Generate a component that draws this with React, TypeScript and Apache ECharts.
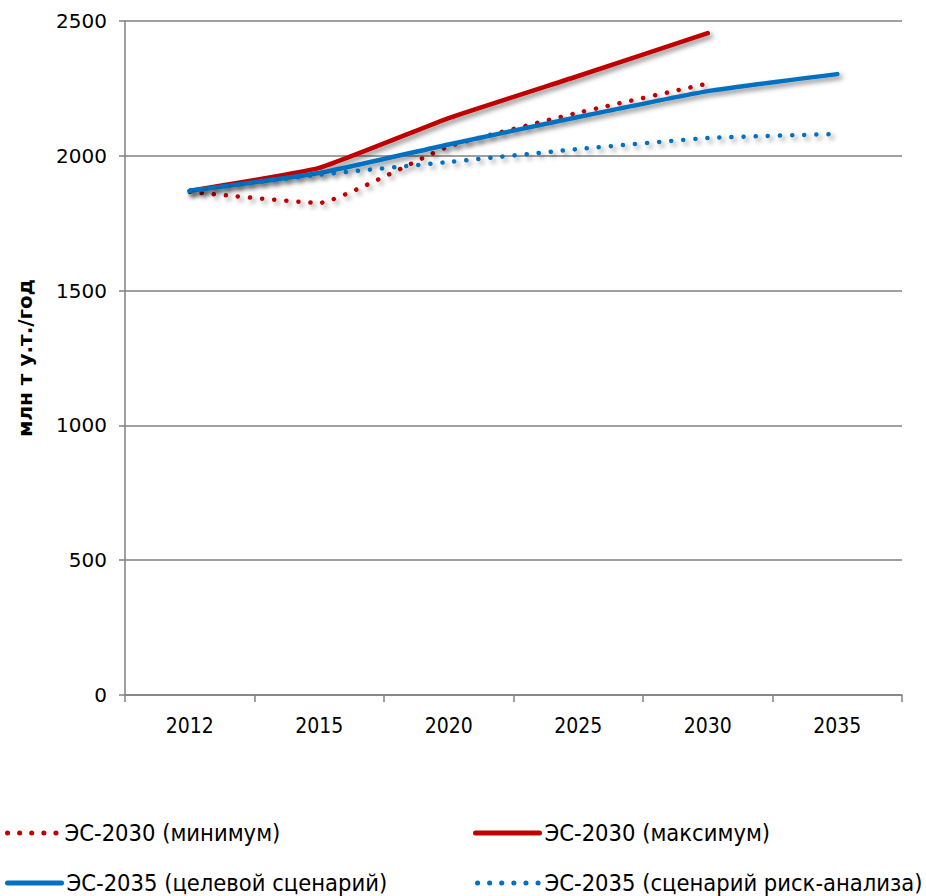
import React, { useEffect, useRef } from "react";
import * as echarts from "echarts";

const years = ["2012", "2015", "2020", "2025", "2030", "2035"];
const es2030Min = [1866, 1825, 2035, 2160, 2268, null];
const es2030Max = [1870, 1955, 2140, 2296, 2455, null];
const es2035Target = [1870, 1936, 2042, 2144, 2240, 2303];
const es2035Risk = [1870, 1930, 1977, 2025, 2066, 2081];
const seriesNames = [
  "ЭС-2030 (минимум)",
  "ЭС-2030 (максимум)",
  "ЭС-2035 (целевой сценарий)",
  "ЭС-2035 (сценарий риск-анализа)",
];
const yTitle = "млн т у.т./год";

const RED = "#C00000";
const BLUE = "#0070C0";
const NARROW = "'Liberation Sans Narrow', 'DejaVu Sans Condensed', 'Noto Sans', sans-serif";
const GOTHIC = "'DejaVu Sans', 'Noto Sans', sans-serif";

export default function App() {
  const ref = useRef<HTMLDivElement>(null);
  useEffect(() => {
    if (!ref.current) return;
    const chart = echarts.init(ref.current, undefined, { renderer: "svg" });
    const shadow = {
      shadowColor: "rgba(0,0,0,0.45)",
      shadowBlur: 5,
      shadowOffsetX: 3,
      shadowOffsetY: 3,
    };
    const mk = (name: string, data: any[], color: string, dotted: boolean) => ({
      name,
      type: "line",
      data,
      smooth: 0.12,
      symbol: "none",
      connectNulls: false,
      color,
      lineStyle: {
        color,
        width: 4.5,
        type: dotted ? [0.1, 12] : "solid",
        cap: "round",
        join: "round",
        ...shadow,
      },
      itemStyle: { color },
    });
    const legendBase = {
      itemWidth: 52,
      itemHeight: 14,
      itemStyle: { opacity: 0, borderWidth: 0 },
      lineStyle: { width: 5, cap: "round", shadowBlur: 0, shadowOffsetX: 0, shadowOffsetY: 0 },
      textStyle: { fontFamily: NARROW, fontSize: 23.5, color: "#000" },
      selectedMode: false,
    };
    chart.setOption({
      animation: false,
      backgroundColor: "#fff",
      grid: { left: 125, right: 24, top: 21, bottom: 201, containLabel: false },
      legend: [
        { ...legendBase, data: [seriesNames[0]], left: 0, top: 816, itemWidth: 52 },
        { ...legendBase, data: [seriesNames[1]], left: 468, top: 816, itemWidth: 64 },
        { ...legendBase, data: [seriesNames[2]], left: 0, top: 866, itemWidth: 54 },
        { ...legendBase, data: [seriesNames[3]], left: 470, top: 866, itemWidth: 62 },
      ],
      xAxis: {
        type: "category",
        data: years,
        boundaryGap: true,
        axisLine: { show: true, lineStyle: { color: "#808080", width: 1.5 } },
        axisTick: { show: true, length: 7, lineStyle: { color: "#808080", width: 1.5 } },
        axisLabel: { fontFamily: NARROW, fontSize: 21, color: "#000", margin: 20 },
        splitLine: { show: false },
      },
      yAxis: {
        type: "value",
        min: 0,
        max: 2500,
        interval: 500,
        name: yTitle,
        nameLocation: "middle",
        nameGap: 90,
        nameRotate: 90,
        nameTextStyle: { fontFamily: GOTHIC, fontSize: 20, fontWeight: "bold", color: "#000" },
        axisLine: { show: true, lineStyle: { color: "#808080", width: 1.5 } },
        axisTick: { show: true, length: 6, lineStyle: { color: "#808080", width: 1.5 } },
        axisLabel: { fontFamily: GOTHIC, fontSize: 20, color: "#000", margin: 18, formatter: (v: number) => String(v) },
        splitLine: { show: true, lineStyle: { color: "#808080", width: 1.5 } },
      },
      series: [
        mk(seriesNames[0], es2030Min, RED, true),
        mk(seriesNames[1], es2030Max, RED, false),
        mk(seriesNames[2], es2035Target, BLUE, false),
        mk(seriesNames[3], es2035Risk, BLUE, true),
      ],
    });
    return () => chart.dispose();
  }, []);
  return <div ref={ref} style={{ width: 926, height: 896, position: "absolute", left: 0, top: 0 }} />;
}
